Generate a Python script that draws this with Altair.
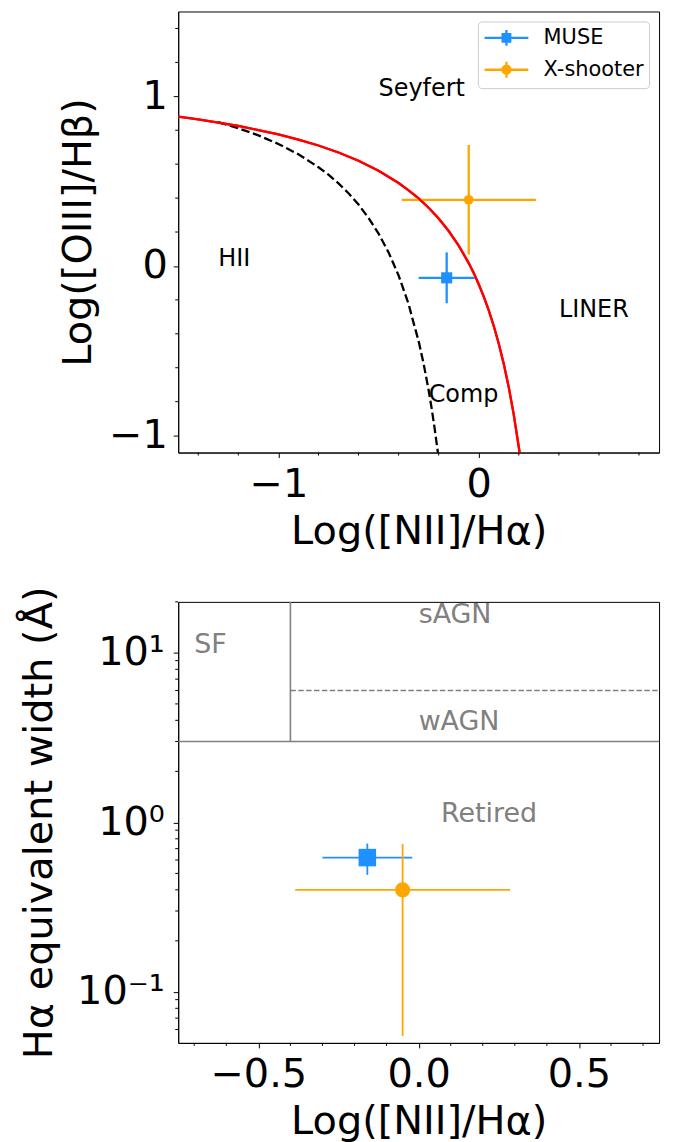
import altair as alt
import pandas as pd

# ---------------- data ----------------
instrument = ["MUSE", "X-shooter"]
inst_colors = ["#1E90FF", "#FFA500"]

# BPT panel
bpt_x = [-0.16, -0.05]
bpt_xerr = [0.14, 0.335]
bpt_y = [-0.07, 0.39]
bpt_yerr = [0.15, 0.323]

# WHAN panel
whan_x = [-0.16, -0.05]
whan_xerr = [0.14, 0.335]
whan_ew = [0.62, 0.40]
whan_ewerr = [0.13, 0.345]

# demarcation curves
kew_x = [-1.5, -1.4, -1.3, -1.2, -1.1, -1.0, -0.9, -0.8, -0.7, -0.6, -0.5, -0.4, -0.35, -0.3,
         -0.25, -0.2, -0.15, -0.1, -0.05, -0.025, 0.0, 0.025, 0.05, 0.075, 0.1, 0.125, 0.15,
         0.175, 0.2, 0.204]
kew_y = [0.880, 0.864, 0.845, 0.825, 0.801, 0.775, 0.745, 0.710, 0.669, 0.620, 0.561, 0.489,
         0.446, 0.398, 0.343, 0.280, 0.206, 0.120, 0.017, -0.042, -0.108, -0.181, -0.262,
         -0.354, -0.459, -0.578, -0.716, -0.878, -1.069, -1.1]
kau_x = [-1.3, -1.2, -1.1, -1.0, -0.9, -0.8, -0.75, -0.7, -0.65, -0.6, -0.55, -0.5, -0.45,
         -0.4, -0.35, -0.325, -0.3, -0.275, -0.25, -0.235, -0.22, -0.204]
kau_y = [0.848, 0.812, 0.770, 0.719, 0.658, 0.582, 0.538, 0.487, 0.429, 0.362, 0.283, 0.191,
         0.080, -0.056, -0.225, -0.337, -0.443, -0.577, -0.733, -0.840, -0.959, -1.1]

bpt_labels = ["Seyfert", "HII", "Comp", "LINER"]
bpt_lx = [-0.5, -1.3, -0.25, 0.4]
bpt_ly = [1.0, 0.0, -0.8, -0.3]

whan_labels = ["SF", "sAGN", "wAGN", "Retired"]
whan_lx = [-0.7, 0.0, 0.0, 0.07]
whan_ly = [10.0, 15.0, 3.5, 1.0]

# WHAN dividing lines
sf_x = [-0.4]
sf_y = [3.0]
sf_y2 = [20.0]
ret_y = [3.0]
ret_x = [-0.75]
ret_x2 = [0.75]
sw_y = [6.0]
sw_x = [-0.4]
sw_x2 = [0.75]

# ticks
top_xmajor = [-1, 0]
top_xminor = [-1.4, -1.2, -0.8, -0.6, -0.4, -0.2, 0.2, 0.4, 0.6, 0.8]
top_ymajor = [-1, 0, 1]
top_yminor = [-0.8, -0.6, -0.4, -0.2, 0.2, 0.4, 0.6, 0.8, 1.2, 1.4]
bot_xmajor = [-0.5, 0.0, 0.5]
bot_xminor = [-0.7, -0.6, -0.4, -0.3, -0.2, -0.1, 0.1, 0.2, 0.3, 0.4, 0.6, 0.7]
bot_ymajor = [0.1, 1, 10]
bot_yminor = [0.06, 0.07, 0.08, 0.09, 0.2, 0.3, 0.4, 0.5, 0.6, 0.7, 0.8, 0.9,
              2, 3, 4, 5, 6, 7, 8, 9, 20]

FONT = "DejaVu Sans"
W, H = 483, 443
MINOR = 3

# ---------------- top panel (BPT) ----------------
XT = alt.Scale(domain=[-1.5, 0.9], nice=False, zero=False)
YT = alt.Scale(domain=[-1.1, 1.5], nice=False, zero=False)

x_axis_top = alt.Axis(
    title="Log([NII]/Hα)", values=top_xmajor, labelExpr="format(datum.value, 'd')",
    tickSize=5, labelPadding=7, titlePadding=7, labelFlush=False, labelOverlap=False,
)
y_axis_top = alt.Axis(
    title="Log([OIII]/Hβ)", values=top_ymajor, labelExpr="format(datum.value, 'd')",
    tickSize=5, labelPadding=6, titlePadding=10, labelFlush=False, labelOverlap=False,
)

kew_df = pd.DataFrame({"x": kew_x, "y": kew_y})
kau_df = pd.DataFrame({"x": kau_x, "y": kau_y})

kew_line = alt.Chart(kew_df).mark_line(color="red", strokeWidth=2.3).encode(
    x=alt.X("x:Q", scale=XT, axis=x_axis_top),
    y=alt.Y("y:Q", scale=YT, axis=y_axis_top),
    order="x:Q",
)
kau_line = alt.Chart(kau_df).mark_line(color="black", strokeWidth=2.3, strokeDash=[8.5, 3.7]).encode(
    x=alt.X("x:Q", scale=XT), y=alt.Y("y:Q", scale=YT), order="x:Q",
)

top_xminor_ticks = alt.Chart(pd.DataFrame({"v": top_xminor})).mark_rule(
    color="black", strokeWidth=1).encode(
    x=alt.X("v:Q", scale=XT), y=alt.value(H), y2=alt.value(H + MINOR))
top_yminor_ticks = alt.Chart(pd.DataFrame({"v": top_yminor})).mark_rule(
    color="black", strokeWidth=1).encode(
    y=alt.Y("v:Q", scale=YT), x=alt.value(0), x2=alt.value(-MINOR))

top_layers = []
legend_paths = [
    "M-0.98,0H3.42M1.22,-0.8V0.8M0.84,-0.38H1.6V0.38H0.84Z",
    "M-0.98,0H3.42M1.22,-0.8V0.8M0.82,0A0.4,0.4 0 1,0 1.62,0A0.4,0.4 0 1,0 0.82,0Z",
]
marker_shapes = ["square", "circle"]
top_sizes = [125, 95]
bot_sizes = [310, 230]

for i, name in enumerate(instrument):
    d = pd.DataFrame({
        "x": [bpt_x[i]], "y": [bpt_y[i]],
        "xlo": [bpt_x[i] - bpt_xerr[i]], "xhi": [bpt_x[i] + bpt_xerr[i]],
        "ylo": [bpt_y[i] - bpt_yerr[i]], "yhi": [bpt_y[i] + bpt_yerr[i]],
    })
    base = alt.Chart(d)
    top_layers.append(base.mark_rule(color=inst_colors[i], strokeWidth=2.3).encode(
        x=alt.X("xlo:Q", scale=XT), x2="xhi:Q", y=alt.Y("y:Q", scale=YT)))
    top_layers.append(base.mark_rule(color=inst_colors[i], strokeWidth=2.3).encode(
        x=alt.X("x:Q", scale=XT), y=alt.Y("ylo:Q", scale=YT), y2="yhi:Q"))

leg = alt.Legend(
    title=None, orient="none", legendX=301, legendY=10, padding=5, rowPadding=5,
    symbolSize=400, symbolStrokeWidth=2.3, symbolOpacity=1, labelFont=FONT,
    labelFontSize=21, labelColor="black", labelOffset=38, labelLimit=0,
    fillColor="white", strokeColor="#cccccc", cornerRadius=4,
)
leg_df = pd.DataFrame({"Instrument": instrument, "x": bpt_x, "y": bpt_y})
legend_layer = alt.Chart(leg_df).mark_point(filled=True, opacity=0, strokeWidth=2.3, size=4).encode(
    x=alt.X("x:Q", scale=XT), y=alt.Y("y:Q", scale=YT),
    fill=alt.Fill("Instrument:N", scale=alt.Scale(domain=instrument, range=inst_colors), legend=leg),
    stroke=alt.Stroke("Instrument:N", scale=alt.Scale(domain=instrument, range=inst_colors), legend=leg),
    shape=alt.Shape("Instrument:N", scale=alt.Scale(domain=instrument, range=legend_paths), legend=leg),
)

for i, name in enumerate(instrument):
    d = pd.DataFrame({"x": [bpt_x[i]], "y": [bpt_y[i]]})
    top_layers.append(alt.Chart(d).mark_point(
        shape=marker_shapes[i], filled=True, size=top_sizes[i], color=inst_colors[i], opacity=1
    ).encode(x=alt.X("x:Q", scale=XT), y=alt.Y("y:Q", scale=YT)))

bpt_text_df = pd.DataFrame({"t": bpt_labels, "x": bpt_lx, "y": bpt_ly})
bpt_text = alt.Chart(bpt_text_df).mark_text(
    align="left", baseline="alphabetic", font=FONT, fontSize=24, color="black"
).encode(x=alt.X("x:Q", scale=XT), y=alt.Y("y:Q", scale=YT), text="t:N")

top = alt.layer(
    kew_line, top_xminor_ticks, top_yminor_ticks, legend_layer, *top_layers,
    kau_line, kew_line, bpt_text
).properties(width=W, height=H)

# ---------------- bottom panel (WHAN) ----------------
XB = alt.Scale(domain=[-0.75, 0.75], nice=False, zero=False)
YB = alt.Scale(type="log", domain=[0.05, 20], nice=False)

x_axis_bot = alt.Axis(
    title="Log([NII]/Hα)", values=bot_xmajor, labelExpr="format(datum.value, '.1f')",
    tickSize=5, labelPadding=7, titlePadding=7, labelFlush=False, labelOverlap=False,
)
y_axis_bot = alt.Axis(
    title="Hα equivalent width (Å)", values=bot_ymajor,
    labelExpr="datum.value < 0.5 ? '10⁻¹' : datum.value < 5 ? '10⁰' : '10¹'",
    tickSize=5, labelPadding=9, titlePadding=17, labelFlush=False, labelOverlap=False,
)

gray = "#808080"
sf_df = pd.DataFrame({"x": sf_x, "y": sf_y, "y2": sf_y2})
ret_df = pd.DataFrame({"y": ret_y, "x": ret_x, "x2": ret_x2})
sw_df = pd.DataFrame({"y": sw_y, "x": sw_x, "x2": sw_x2})

sf_rule = alt.Chart(sf_df).mark_rule(color=gray, strokeWidth=1.6).encode(
    x=alt.X("x:Q", scale=XB, axis=x_axis_bot),
    y=alt.Y("y:Q", scale=YB, axis=y_axis_bot), y2="y2:Q")
ret_rule = alt.Chart(ret_df).mark_rule(color=gray, strokeWidth=1.6).encode(
    x=alt.X("x:Q", scale=XB), x2="x2:Q", y=alt.Y("y:Q", scale=YB))
sw_rule = alt.Chart(sw_df).mark_rule(color=gray, strokeWidth=1.6, strokeDash=[5.5, 2.4]).encode(
    x=alt.X("x:Q", scale=XB), x2="x2:Q", y=alt.Y("y:Q", scale=YB))

bot_xminor_ticks = alt.Chart(pd.DataFrame({"v": bot_xminor})).mark_rule(
    color="black", strokeWidth=1).encode(
    x=alt.X("v:Q", scale=XB), y=alt.value(H), y2=alt.value(H + MINOR))
bot_yminor_ticks = alt.Chart(pd.DataFrame({"v": bot_yminor})).mark_rule(
    color="black", strokeWidth=1).encode(
    y=alt.Y("v:Q", scale=YB), x=alt.value(0), x2=alt.value(-MINOR))

bot_layers = [sf_rule, ret_rule, sw_rule, bot_xminor_ticks, bot_yminor_ticks]
for i, name in enumerate(instrument):
    d = pd.DataFrame({
        "x": [whan_x[i]], "y": [whan_ew[i]],
        "xlo": [whan_x[i] - whan_xerr[i]], "xhi": [whan_x[i] + whan_xerr[i]],
        "ylo": [whan_ew[i] - whan_ewerr[i]], "yhi": [whan_ew[i] + whan_ewerr[i]],
    })
    base = alt.Chart(d)
    bot_layers.append(base.mark_rule(color=inst_colors[i], strokeWidth=1.8).encode(
        x=alt.X("xlo:Q", scale=XB), x2="xhi:Q", y=alt.Y("y:Q", scale=YB)))
    bot_layers.append(base.mark_rule(color=inst_colors[i], strokeWidth=1.8).encode(
        x=alt.X("x:Q", scale=XB), y=alt.Y("ylo:Q", scale=YB), y2="yhi:Q"))
    bot_layers.append(base.mark_point(
        shape=marker_shapes[i], filled=True, size=bot_sizes[i], color=inst_colors[i], opacity=1
    ).encode(x=alt.X("x:Q", scale=XB), y=alt.Y("y:Q", scale=YB)))

whan_text_df = pd.DataFrame({"t": whan_labels, "x": whan_lx, "y": whan_ly})
whan_text = alt.Chart(whan_text_df).mark_text(
    align="left", baseline="alphabetic", font=FONT, fontSize=27, color=gray
).encode(x=alt.X("x:Q", scale=XB), y=alt.Y("y:Q", scale=YB), text="t:N")

bottom = alt.layer(*bot_layers, whan_text).properties(width=W, height=H)

chart = alt.vconcat(top, bottom, spacing=150, bounds="flush").resolve_scale(
    fill="independent", stroke="independent", shape="independent"
).resolve_legend(
    fill="independent", stroke="independent", shape="independent"
).properties(
    padding={"left": 19, "top": 8, "right": 12, "bottom": 0}
).configure_view(
    stroke="black", strokeWidth=1
).configure_axis(
    grid=False, domainColor="black", domainWidth=1, tickColor="black", tickWidth=1,
    labelColor="black", titleColor="black", labelFont=FONT, titleFont=FONT,
    labelFontSize=40, titleFontSize=40, titleFontWeight="normal",
)

chart.save("out.html", embed_options={"renderer": "svg", "actions": False})
